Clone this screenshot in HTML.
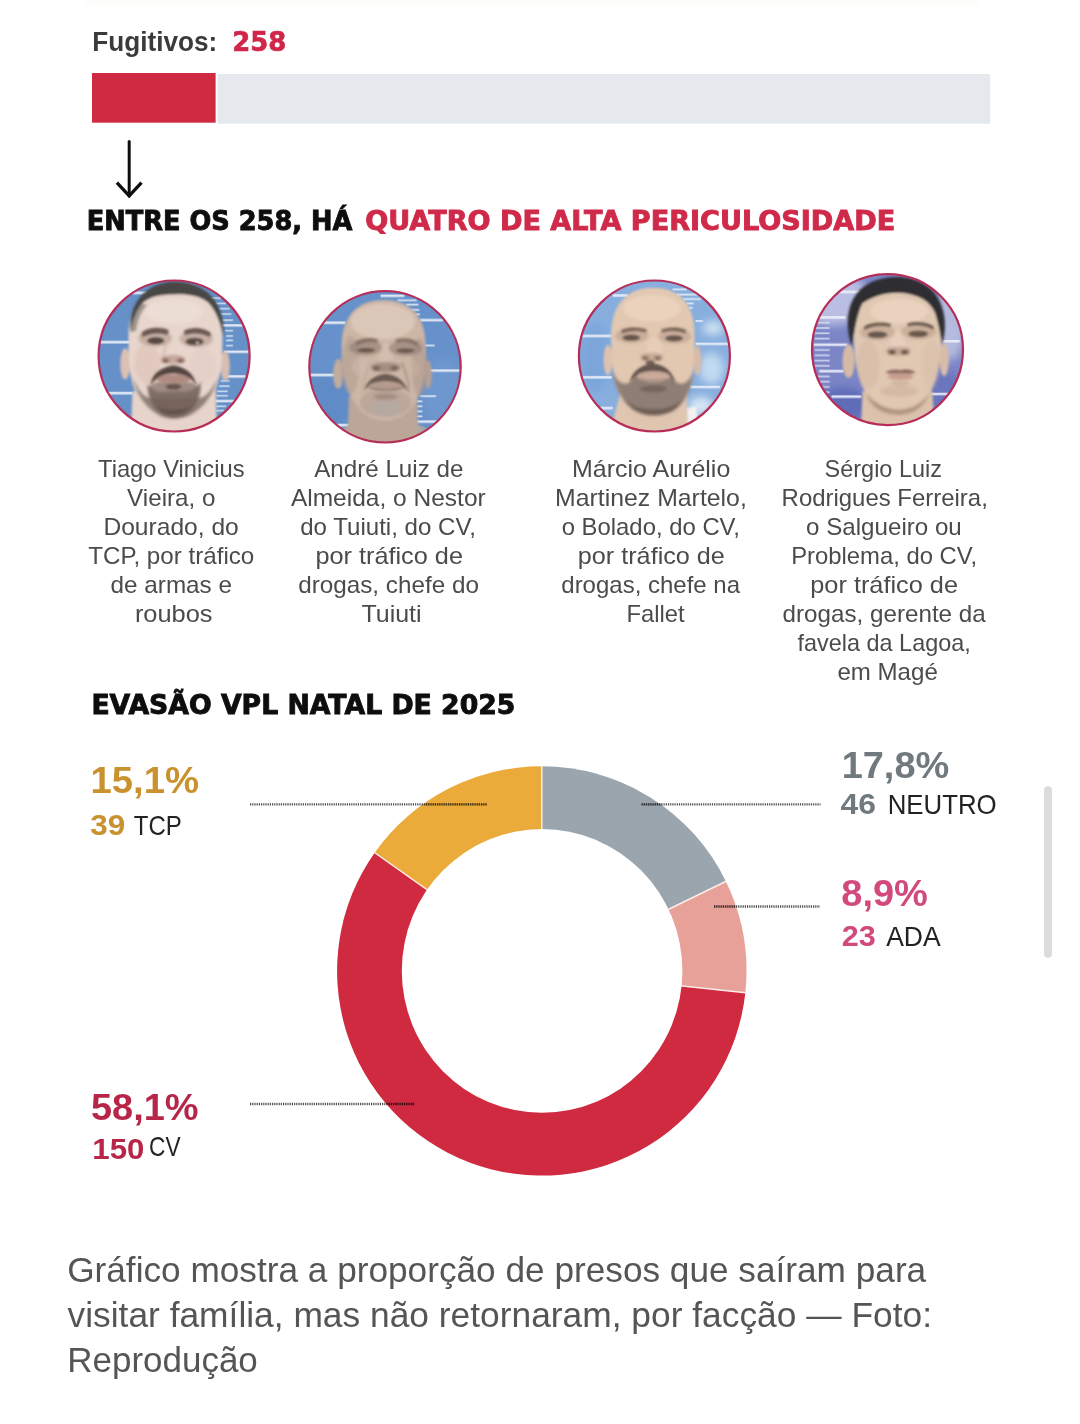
<!DOCTYPE html>
<html lang="pt-BR"><head><meta charset="utf-8"><title>Evasão VPL Natal de 2025</title>
<style>
html,body{margin:0;padding:0;background:#fff}
body{width:1080px;height:1424px;overflow:hidden;position:relative;font-family:"Liberation Sans",sans-serif}
svg{position:absolute;left:0;top:0;display:block}
</style></head><body>
<svg width="1080" height="1424" viewBox="0 0 1080 1424">
<defs><filter id="soft" x="0" y="0" width="100%" height="100%" filterUnits="userSpaceOnUse"><feGaussianBlur stdDeviation="0.45"/></filter></defs>
<g filter="url(#soft)">
<rect x="83" y="0" width="895" height="6" fill="#FDFDFB"/>
<rect x="217.6" y="74" width="772.6" height="49.7" fill="#E5E9ED"/>
<rect x="92" y="73" width="123.6" height="49.7" fill="#D02A42"/>
<text x="92.3" y="50.9" font-family='"Liberation Sans", sans-serif' font-size="27.2" font-weight="700" fill="#3b3b3d" text-anchor="start" textLength="125" lengthAdjust="spacingAndGlyphs">Fugitivos:</text>
<text x="232.2" y="50.9" font-family='"DejaVu Sans", "Liberation Sans", sans-serif' font-size="26.8" font-weight="700" fill="#D0284A" text-anchor="start" textLength="54" lengthAdjust="spacingAndGlyphs" stroke="#D0284A" stroke-width="0.7">258</text>
<path d="M129.2 141.6V196" fill="none" stroke="#111" stroke-width="3.0" stroke-linecap="round"/><path d="M116.9 182.6L129.2 195.9L141.5 182.6" fill="none" stroke="#111" stroke-width="3.3" stroke-linecap="butt" stroke-linejoin="miter"/>
<text x="86.8" y="229.6" font-family='"DejaVu Sans", "Liberation Sans", sans-serif' font-size="26.3" font-weight="700" fill="#0c0c0c" text-anchor="start" textLength="265.5" lengthAdjust="spacingAndGlyphs" stroke="#0c0c0c" stroke-width="0.9">ENTRE OS 258, HÁ</text>
<text x="365.2" y="229.6" font-family='"DejaVu Sans", "Liberation Sans", sans-serif' font-size="26.3" font-weight="700" fill="#D02B4B" text-anchor="start" textLength="530" lengthAdjust="spacingAndGlyphs" stroke="#D02B4B" stroke-width="0.9">QUATRO DE ALTA PERICULOSIDADE</text>
<defs><filter id="b3" x="-10%" y="-10%" width="120%" height="120%"><feGaussianBlur stdDeviation="3"/></filter><filter id="b8" x="-20%" y="-20%" width="140%" height="140%"><feGaussianBlur stdDeviation="25"/></filter><filter id="f6" x="-10%" y="-10%" width="120%" height="120%"><feGaussianBlur stdDeviation="11"/></filter><filter id="f8" x="-10%" y="-10%" width="120%" height="120%"><feGaussianBlur stdDeviation="8"/></filter><filter id="f10" x="-10%" y="-10%" width="120%" height="120%"><feGaussianBlur stdDeviation="16"/></filter></defs>
<clipPath id="cp0"><circle cx="174.1" cy="356.0" r="75.6"/></clipPath>
<g clip-path="url(#cp0)">
<g transform="translate(80 270) scale(0.17593)"><rect x="0" y="0" width="1080" height="1023" fill="#6590C8"/><g filter="url(#b3)"><rect x="100" y="402.5" width="185" height="15" fill="#EAF0F8" opacity="0.92"/><rect x="150" y="692.5" width="150" height="15" fill="#EAF0F8" opacity="0.92"/><rect x="300" y="122.5" width="100" height="15" fill="#EAF0F8" opacity="0.92"/><rect x="790" y="308.0" width="160" height="14" fill="#EAF0F8" opacity="0.92"/><rect x="820" y="458.0" width="150" height="14" fill="#EAF0F8" opacity="0.92"/><rect x="830" y="598.0" width="110" height="14" fill="#EAF0F8" opacity="0.92"/><rect x="770" y="738.0" width="110" height="14" fill="#EAF0F8" opacity="0.92"/><rect x="740" y="155.5" width="60" height="9" fill="#DDE8F4" opacity="0.92"/><rect x="770" y="185.5" width="60" height="9" fill="#DDE8F4" opacity="0.92"/><rect x="790" y="215.5" width="60" height="9" fill="#DDE8F4" opacity="0.92"/><rect x="800" y="245.5" width="60" height="9" fill="#DDE8F4" opacity="0.92"/><rect x="810" y="280.5" width="60" height="9" fill="#DDE8F4" opacity="0.92"/><rect x="825" y="340.5" width="45" height="9" fill="#DDE8F4" opacity="0.92"/><rect x="830" y="370.5" width="40" height="9" fill="#DDE8F4" opacity="0.92"/><rect x="830" y="395.5" width="40" height="9" fill="#DDE8F4" opacity="0.92"/><rect x="830" y="425.5" width="40" height="9" fill="#DDE8F4" opacity="0.92"/><rect x="800" y="625.5" width="50" height="9" fill="#DDE8F4" opacity="0.92"/><rect x="790" y="655.5" width="60" height="9" fill="#DDE8F4" opacity="0.92"/><rect x="780" y="685.5" width="60" height="9" fill="#DDE8F4" opacity="0.92"/><rect x="775" y="710.5" width="65" height="9" fill="#DDE8F4" opacity="0.92"/><rect x="775" y="770.5" width="55" height="9" fill="#DDE8F4" opacity="0.92"/><rect x="775" y="795.5" width="45" height="9" fill="#DDE8F4" opacity="0.92"/></g></g>
<g transform="translate(114 286) scale(0.11111)"><g filter="url(#f8)"><path d="M165 950 L150 1400 L930 1400 L915 900 Z" fill="#E6D3CA"/><ellipse cx="100" cy="700" rx="45" ry="140" fill="#DCC0B4"/><ellipse cx="1000" cy="720" rx="42" ry="135" fill="#D9BDB0"/><path d="M540 -10 C800 -10 985 150 975 480 C975 700 960 850 880 1000 C800 1130 680 1195 540 1195 C400 1195 290 1120 210 990 C140 850 130 700 130 480 C125 150 290 -10 540 -10 Z" fill="#E8D6CD"/><path d="M150 420 C120 150 300 -40 540 -40 C800 -40 1010 120 985 470 C960 330 920 230 850 150 C760 80 640 70 540 75 C420 75 320 90 250 160 C190 240 165 330 150 420 Z" fill="#4A4644"/><path d="M250 160 C190 240 165 330 150 420 L200 400 C210 300 250 220 300 170 Z" fill="#8C8480" opacity="0.8"/></g><g filter="url(#f10)"><ellipse cx="300" cy="700" rx="120" ry="180" fill="#DDBFB4" opacity="0.55"/><ellipse cx="800" cy="720" rx="120" ry="170" fill="#E2C9BF" opacity="0.4"/><ellipse cx="540" cy="230" rx="260" ry="110" fill="#EEE1DA" opacity="0.6"/><path d="M170 820 C190 960 280 1100 420 1170 C500 1200 600 1200 680 1165 C820 1090 900 960 935 820 C880 940 830 1000 760 1010 L330 1010 C260 1000 210 930 170 820 Z" fill="#8A7A71" opacity="0.95"/><path d="M300 880 C300 1050 410 1188 540 1192 C680 1188 790 1050 780 860 C720 960 640 950 540 950 C440 950 370 970 300 880 Z" fill="#72625A" opacity="0.9"/><path d="M380 1080 C440 1180 640 1180 710 1070 C650 1130 440 1130 380 1080 Z" fill="#5A4C46" opacity="0.85"/><ellipse cx="535" cy="905" rx="210" ry="55" fill="#7F6C63" opacity="0.7"/><ellipse cx="370" cy="470" rx="150" ry="75" fill="#B39A8D" opacity="0.65"/><ellipse cx="740" cy="475" rx="150" ry="75" fill="#B39A8D" opacity="0.65"/><ellipse cx="530" cy="660" rx="110" ry="40" fill="#C29F93" opacity="0.85"/><ellipse cx="462" cy="672" rx="32" ry="20" fill="#7A5A50"/><ellipse cx="600" cy="672" rx="32" ry="20" fill="#7A5A50"/><path d="M470 520 C460 580 440 620 430 660" fill="none" stroke="#C9AA9E" stroke-width="22" stroke-linecap="round" opacity="0.6"/></g><g filter="url(#f6)"><path d="M330 890 C340 790 420 730 535 715 C650 730 720 790 745 900 C700 830 640 790 535 785 C430 790 380 830 330 890 Z" fill="#54453F"/><ellipse cx="535" cy="838" rx="150" ry="44" fill="#B08A80"/><ellipse cx="535" cy="905" rx="70" ry="26" fill="#5E4F48" opacity="0.9"/><path d="M250 420 C300 370 420 365 490 395 L485 440 C410 415 320 420 255 460 Z" fill="#6A5850"/><path d="M630 400 C700 365 810 370 870 420 L865 460 C800 420 710 415 635 440 Z" fill="#6A5850"/><ellipse cx="375" cy="492" rx="75" ry="30" fill="#564840"/><ellipse cx="725" cy="500" rx="80" ry="32" fill="#564840"/><ellipse cx="750" cy="510" rx="12" ry="10" fill="#E8E0DA"/></g></g>
</g>
<circle cx="174.1" cy="356.0" r="75.5" fill="none" stroke="#B62E58" stroke-width="2.2"/>
<clipPath id="cp1"><circle cx="385.0" cy="366.8" r="75.8"/></clipPath>
<g clip-path="url(#cp1)">
<g transform="translate(290 280) scale(0.17593)"><rect x="0" y="0" width="1080" height="1023" fill="#6691CA"/><g filter="url(#b8)"><ellipse cx="870" cy="640" rx="130" ry="200" fill="#6E97CE"/><ellipse cx="200" cy="700" rx="130" ry="150" fill="#5F8BC6"/></g><g filter="url(#b3)"><rect x="190" y="235.5" width="125" height="15" fill="#EAF0F8" opacity="0.92"/><rect x="110" y="532.5" width="145" height="15" fill="#EAF0F8" opacity="0.92"/><rect x="260" y="817.5" width="75" height="15" fill="#EAF0F8" opacity="0.92"/><rect x="515" y="83.0" width="135" height="14" fill="#EAF0F8" opacity="0.92"/><rect x="740" y="221.0" width="130" height="14" fill="#EAF0F8" opacity="0.92"/><rect x="795" y="508.0" width="180" height="14" fill="#EAF0F8" opacity="0.92"/><rect x="720" y="798.0" width="125" height="14" fill="#EAF0F8" opacity="0.92"/><rect x="610" y="110.0" width="110" height="10" fill="#E3ECF6" opacity="0.92"/><rect x="660" y="135.0" width="70" height="10" fill="#E3ECF6" opacity="0.92"/><rect x="690" y="165.0" width="45" height="10" fill="#E3ECF6" opacity="0.92"/><rect x="712" y="190.0" width="26" height="10" fill="#E3ECF6" opacity="0.92"/><rect x="765" y="367.0" width="57" height="10" fill="#E3ECF6" opacity="0.92"/><rect x="740" y="655.0" width="90" height="10" fill="#E3ECF6" opacity="0.92"/><rect x="720" y="685.0" width="32" height="10" fill="#E3ECF6" opacity="0.92"/><rect x="720" y="713.0" width="32" height="10" fill="#E3ECF6" opacity="0.92"/><rect x="720" y="742.0" width="32" height="10" fill="#E3ECF6" opacity="0.92"/><rect x="720" y="770.0" width="32" height="10" fill="#E3ECF6" opacity="0.92"/></g></g>
<g transform="translate(325 296) scale(0.11111)"><g filter="url(#f8)"><path d="M100 1260 C150 1180 230 1150 300 1140 L760 1140 C850 1150 930 1190 990 1260 L990 1400 L100 1400 Z" fill="#B0A6A0"/><path d="M215 900 L200 1400 L840 1400 L830 900 Z" fill="#BCA698"/><ellipse cx="118" cy="700" rx="45" ry="135" fill="#C2AC9E"/><ellipse cx="925" cy="705" rx="35" ry="130" fill="#B8A294"/><path d="M520 35 C790 35 915 200 905 480 C905 700 880 850 800 980 C720 1090 640 1120 540 1120 C440 1120 350 1090 280 980 C190 850 150 700 150 480 C140 200 280 35 520 35 Z" fill="#CDB6A6"/></g><g filter="url(#f10)"><ellipse cx="520" cy="230" rx="290" ry="160" fill="#DDCABB" opacity="0.85"/><ellipse cx="230" cy="620" rx="80" ry="260" fill="#B09A8C" opacity="0.55"/><ellipse cx="850" cy="640" rx="70" ry="260" fill="#AC9688" opacity="0.55"/><ellipse cx="545" cy="540" rx="65" ry="120" fill="#D6C1B2" opacity="0.7"/><ellipse cx="330" cy="640" rx="90" ry="80" fill="#D2BCAD" opacity="0.5"/><ellipse cx="770" cy="650" rx="80" ry="80" fill="#CCB6A6" opacity="0.4"/><ellipse cx="365" cy="465" rx="150" ry="70" fill="#948073" opacity="0.65"/><ellipse cx="725" cy="470" rx="150" ry="70" fill="#948073" opacity="0.65"/><ellipse cx="545" cy="640" rx="135" ry="45" fill="#9C8678" opacity="0.85"/><ellipse cx="462" cy="652" rx="34" ry="20" fill="#6E5B51"/><ellipse cx="625" cy="652" rx="34" ry="20" fill="#6E5B51"/><ellipse cx="545" cy="960" rx="230" ry="130" fill="#B09D91" opacity="0.6"/><ellipse cx="545" cy="1010" rx="150" ry="75" fill="#B3AAA2" opacity="0.75"/><ellipse cx="545" cy="905" rx="110" ry="28" fill="#8F7C71" opacity="0.6"/></g><g filter="url(#f6)"><path d="M275 415 C330 375 420 372 475 392 L472 425 C410 405 340 412 282 448 Z" fill="#7E6B60" opacity="0.85"/><path d="M635 392 C700 372 785 380 835 420 L828 450 C770 412 700 405 640 424 Z" fill="#7E6B60" opacity="0.85"/><ellipse cx="368" cy="488" rx="82" ry="20" fill="#6A594F"/><ellipse cx="722" cy="492" rx="80" ry="20" fill="#6A594F"/><path d="M355 850 C375 760 450 712 545 700 C640 712 720 760 745 860 C700 795 640 772 545 768 C450 772 400 795 355 850 Z" fill="#6C5C53"/><ellipse cx="545" cy="808" rx="150" ry="36" fill="#B49B8E"/><path d="M400 828 C500 850 600 850 700 828" fill="none" stroke="#7C6A60" stroke-width="12" stroke-linecap="round" opacity="0.8"/><path d="M690 600 C730 680 750 770 755 860" fill="none" stroke="#86736A" stroke-width="13" stroke-linecap="round" opacity="0.6"/><path d="M400 600 C370 680 350 760 345 850" fill="none" stroke="#96827A" stroke-width="10" stroke-linecap="round" opacity="0.35"/></g></g>
</g>
<circle cx="385.0" cy="366.8" r="75.7" fill="none" stroke="#B62E58" stroke-width="2.2"/>
<clipPath id="cp2"><circle cx="654.4" cy="356.0" r="75.6"/></clipPath>
<g clip-path="url(#cp2)">
<g transform="translate(560 270) scale(0.17593)"><rect x="0" y="0" width="1080" height="1023" fill="#88AEDE"/><g filter="url(#b8)"><ellipse cx="870" cy="330" rx="60" ry="40" fill="#CFE2F3"/><ellipse cx="860" cy="560" rx="70" ry="90" fill="#C2DAF0"/><ellipse cx="800" cy="770" rx="70" ry="50" fill="#D8E8F5"/><ellipse cx="200" cy="500" rx="90" ry="200" fill="#7CA6DA"/></g><g filter="url(#b3)"><rect x="300" y="137.5" width="85" height="15" fill="#EAF0F8" opacity="0.9"/><rect x="120" y="367.5" width="175" height="15" fill="#EAF0F8" opacity="0.9"/><rect x="125" y="602.5" width="170" height="15" fill="#EAF0F8" opacity="0.9"/><rect x="200" y="777.5" width="100" height="15" fill="#EAF0F8" opacity="0.9"/><rect x="770" y="413.0" width="190" height="14" fill="#EAF0F8" opacity="0.9"/><rect x="740" y="658.0" width="170" height="14" fill="#EAF0F8" opacity="0.9"/><rect x="640" y="105.0" width="80" height="10" fill="#E6EFF8" opacity="0.92"/><rect x="660" y="135.0" width="120" height="10" fill="#E6EFF8" opacity="0.92"/><rect x="700" y="160.0" width="100" height="10" fill="#E6EFF8" opacity="0.92"/><rect x="720" y="185.0" width="40" height="10" fill="#E6EFF8" opacity="0.92"/><rect x="730" y="210.0" width="25" height="10" fill="#E6EFF8" opacity="0.92"/><rect x="770" y="285.0" width="42" height="10" fill="#E6EFF8" opacity="0.92"/></g></g>
<g transform="translate(594 286) scale(0.11111)"><g filter="url(#f8)"><path d="M830 1100 L920 1080 L960 1400 L830 1400 Z" fill="#F2F2F2"/><path d="M240 950 L120 1400 L850 1400 L835 950 Z" fill="#E0C6B0"/><ellipse cx="125" cy="665" rx="40" ry="135" fill="#DEC2AE"/><ellipse cx="930" cy="670" rx="36" ry="130" fill="#D8BBA6"/><path d="M530 15 C800 15 915 200 905 470 C905 700 890 850 820 990 C740 1110 640 1165 540 1165 C440 1165 330 1110 250 990 C170 850 155 700 155 470 C145 200 270 15 530 15 Z" fill="#E2C8B1"/></g><g filter="url(#f10)"><ellipse cx="520" cy="200" rx="260" ry="120" fill="#ECD5C1" opacity="0.8"/><ellipse cx="540" cy="560" rx="70" ry="100" fill="#EAD2BE" opacity="0.6"/><path d="M165 760 C180 900 250 1040 360 1120 C450 1175 630 1175 720 1120 C830 1040 880 900 895 770 C850 880 790 900 730 860 C680 770 620 715 530 705 C440 715 380 770 330 860 C270 900 210 880 165 760 Z" fill="#85766D" opacity="0.9"/><path d="M260 1010 C340 1130 450 1165 540 1165 C630 1165 750 1130 820 1000 C740 1090 640 1110 540 1110 C440 1110 340 1090 260 1010 Z" fill="#685A52" opacity="0.9"/><ellipse cx="340" cy="450" rx="150" ry="65" fill="#BC9F8C" opacity="0.6"/><ellipse cx="725" cy="455" rx="150" ry="65" fill="#BC9F8C" opacity="0.6"/><ellipse cx="520" cy="640" rx="105" ry="38" fill="#C4A591" opacity="0.85"/><ellipse cx="462" cy="648" rx="30" ry="18" fill="#7A6254"/><ellipse cx="575" cy="648" rx="30" ry="18" fill="#7A6254"/></g><g filter="url(#f6)"><path d="M325 870 C335 770 420 715 525 700 C640 715 710 770 730 880 C690 800 630 770 525 765 C430 770 370 800 325 870 Z" fill="#66574F"/><ellipse cx="505" cy="690" rx="40" ry="22" fill="#66574F" opacity="0.9"/><ellipse cx="535" cy="815" rx="150" ry="50" fill="#C9AA9B"/><path d="M400 835 C480 850 590 850 670 835" fill="none" stroke="#9A7D72" stroke-width="12" stroke-linecap="round" opacity="0.8"/><ellipse cx="535" cy="925" rx="120" ry="30" fill="#6E5F57" opacity="0.8"/><path d="M245 400 C300 365 400 368 475 392 L470 418 C400 398 310 398 250 428 Z" fill="#786456"/><path d="M605 392 C680 368 770 365 830 400 L825 428 C770 398 680 398 610 418 Z" fill="#786456"/><ellipse cx="335" cy="465" rx="80" ry="26" fill="#64524A"/><ellipse cx="720" cy="470" rx="80" ry="26" fill="#64524A"/></g></g>
</g>
<circle cx="654.4" cy="356.0" r="75.5" fill="none" stroke="#B62E58" stroke-width="2.2"/>
<clipPath id="cp3"><circle cx="887.5" cy="349.6" r="75.6"/></clipPath>
<g clip-path="url(#cp3)">
<g transform="translate(790 255) scale(0.17593)"><rect x="0" y="0" width="1080" height="1100" fill="#7C86C6"/><g filter="url(#b8)"><ellipse cx="250" cy="250" rx="200" ry="150" fill="#B9BEE2"/><ellipse cx="900" cy="400" rx="100" ry="200" fill="#B5BADF"/><ellipse cx="300" cy="850" rx="150" ry="100" fill="#5F6DB8"/><ellipse cx="880" cy="780" rx="100" ry="120" fill="#6A76BD"/></g><g filter="url(#b3)"><rect x="280" y="202.5" width="115" height="15" fill="#EEF0FA" opacity="0.9"/><rect x="165" y="347.5" width="150" height="15" fill="#EEF0FA" opacity="0.9"/><rect x="135" y="502.5" width="190" height="15" fill="#EEF0FA" opacity="0.9"/><rect x="165" y="652.5" width="140" height="15" fill="#EEF0FA" opacity="0.9"/><rect x="235" y="797.5" width="170" height="15" fill="#EEF0FA" opacity="0.9"/><rect x="865" y="483.0" width="100" height="14" fill="#EEF0FA" opacity="0.9"/><rect x="805" y="783.0" width="100" height="14" fill="#EEF0FA" opacity="0.9"/><rect x="140" y="380.0" width="85" height="10" fill="#DFE2F3" opacity="0.8"/><rect x="140" y="410.0" width="85" height="10" fill="#DFE2F3" opacity="0.8"/><rect x="140" y="440.0" width="85" height="10" fill="#DFE2F3" opacity="0.8"/><rect x="140" y="470.0" width="85" height="10" fill="#DFE2F3" opacity="0.8"/><rect x="140" y="535.0" width="85" height="10" fill="#DFE2F3" opacity="0.8"/><rect x="140" y="565.0" width="85" height="10" fill="#DFE2F3" opacity="0.8"/><rect x="140" y="595.0" width="85" height="10" fill="#DFE2F3" opacity="0.8"/><rect x="140" y="625.0" width="85" height="10" fill="#DFE2F3" opacity="0.8"/><rect x="140" y="685.0" width="85" height="10" fill="#DFE2F3" opacity="0.8"/><rect x="140" y="715.0" width="85" height="10" fill="#DFE2F3" opacity="0.8"/><rect x="140" y="745.0" width="85" height="10" fill="#DFE2F3" opacity="0.8"/><rect x="140" y="775.0" width="85" height="10" fill="#DFE2F3" opacity="0.8"/></g></g>
<g transform="translate(828 280) scale(0.11111)"><g filter="url(#f8)"><path d="M310 1000 L290 1500 L960 1500 L940 1000 Z" fill="#DCC2AC"/><ellipse cx="185" cy="730" rx="55" ry="150" fill="#D6BAA6"/><ellipse cx="1045" cy="715" rx="42" ry="150" fill="#D8BDA9"/><path d="M620 60 C880 60 1020 220 1015 500 C1015 700 1000 860 920 1010 C850 1110 730 1160 630 1160 C530 1160 410 1110 335 1010 C260 870 235 700 232 500 C225 220 380 60 620 60 Z" fill="#E0C8B2"/><path d="M215 600 C120 300 200 -20 620 -30 C1000 -20 1110 300 1025 590 C1010 470 990 380 965 300 C920 190 820 130 650 115 C500 110 400 150 310 210 C260 300 240 450 215 600 Z" fill="#2E2D31"/></g><g filter="url(#f10)"><ellipse cx="640" cy="280" rx="260" ry="110" fill="#EBD6C3" opacity="0.8"/><ellipse cx="360" cy="760" rx="100" ry="220" fill="#CDB09B" opacity="0.35"/><ellipse cx="930" cy="760" rx="80" ry="220" fill="#D2B6A1" opacity="0.3"/><ellipse cx="630" cy="560" rx="70" ry="100" fill="#EAD4C1" opacity="0.6"/><ellipse cx="445" cy="470" rx="160" ry="70" fill="#BCA08C" opacity="0.6"/><ellipse cx="815" cy="465" rx="160" ry="70" fill="#BCA08C" opacity="0.6"/><ellipse cx="632" cy="640" rx="115" ry="40" fill="#C2A490" opacity="0.85"/><ellipse cx="577" cy="648" rx="34" ry="20" fill="#523F37"/><ellipse cx="690" cy="648" rx="34" ry="20" fill="#523F37"/><ellipse cx="640" cy="1000" rx="170" ry="50" fill="#CDB09C" opacity="0.6"/><path d="M340 1020 C430 1130 540 1170 630 1170 C730 1170 840 1130 920 1010 C850 1170 740 1210 630 1210 C520 1210 400 1170 340 1020 Z" fill="#A58A76" opacity="0.85"/></g><g filter="url(#f6)"><path d="M325 420 C390 380 490 378 565 398 L560 422 C490 405 395 408 330 448 Z" fill="#66554A"/><path d="M715 392 C790 372 890 378 950 418 L945 445 C880 405 790 400 718 416 Z" fill="#66554A"/><ellipse cx="445" cy="492" rx="88" ry="28" fill="#66564C"/><ellipse cx="812" cy="484" rx="88" ry="28" fill="#66564C"/><path d="M515 835 C570 795 620 810 650 812 C690 805 740 795 790 835 C740 850 570 850 515 835 Z" fill="#8A665B"/><ellipse cx="652" cy="868" rx="115" ry="32" fill="#C79F91"/><ellipse cx="650" cy="930" rx="90" ry="18" fill="#C9AD9A" opacity="0.7"/></g></g>
</g>
<circle cx="887.5" cy="349.6" r="75.5" fill="none" stroke="#B62E58" stroke-width="2.2"/>
<text x="98.0" y="476.7" font-family='"Liberation Sans", sans-serif' font-size="23.2" font-weight="400" fill="#4b4b4d" text-anchor="start" textLength="146.6" lengthAdjust="spacingAndGlyphs">Tiago Vinicius</text>
<text x="127.1" y="505.7" font-family='"Liberation Sans", sans-serif' font-size="23.2" font-weight="400" fill="#4b4b4d" text-anchor="start" textLength="88.4" lengthAdjust="spacingAndGlyphs">Vieira, o</text>
<text x="103.4" y="534.7" font-family='"Liberation Sans", sans-serif' font-size="23.2" font-weight="400" fill="#4b4b4d" text-anchor="start" textLength="135.4" lengthAdjust="spacingAndGlyphs">Dourado, do</text>
<text x="88.2" y="563.7" font-family='"Liberation Sans", sans-serif' font-size="23.2" font-weight="400" fill="#4b4b4d" text-anchor="start" textLength="166.1" lengthAdjust="spacingAndGlyphs">TCP, por tráfico</text>
<text x="110.6" y="592.7" font-family='"Liberation Sans", sans-serif' font-size="23.2" font-weight="400" fill="#4b4b4d" text-anchor="start" textLength="121.4" lengthAdjust="spacingAndGlyphs">de armas e</text>
<text x="134.9" y="621.7" font-family='"Liberation Sans", sans-serif' font-size="23.2" font-weight="400" fill="#4b4b4d" text-anchor="start" textLength="77.6" lengthAdjust="spacingAndGlyphs">roubos</text>
<text x="314.2" y="476.7" font-family='"Liberation Sans", sans-serif' font-size="23.2" font-weight="400" fill="#4b4b4d" text-anchor="start" textLength="149.2" lengthAdjust="spacingAndGlyphs">André Luiz de</text>
<text x="290.9" y="505.7" font-family='"Liberation Sans", sans-serif' font-size="23.2" font-weight="400" fill="#4b4b4d" text-anchor="start" textLength="194.8" lengthAdjust="spacingAndGlyphs">Almeida, o Nestor</text>
<text x="300.2" y="534.7" font-family='"Liberation Sans", sans-serif' font-size="23.2" font-weight="400" fill="#4b4b4d" text-anchor="start" textLength="175.8" lengthAdjust="spacingAndGlyphs">do Tuiuti, do CV,</text>
<text x="315.4" y="563.7" font-family='"Liberation Sans", sans-serif' font-size="23.2" font-weight="400" fill="#4b4b4d" text-anchor="start" textLength="147.6" lengthAdjust="spacingAndGlyphs">por tráfico de</text>
<text x="298.2" y="592.7" font-family='"Liberation Sans", sans-serif' font-size="23.2" font-weight="400" fill="#4b4b4d" text-anchor="start" textLength="180.7" lengthAdjust="spacingAndGlyphs">drogas, chefe do</text>
<text x="361.4" y="621.7" font-family='"Liberation Sans", sans-serif' font-size="23.2" font-weight="400" fill="#4b4b4d" text-anchor="start" textLength="60.2" lengthAdjust="spacingAndGlyphs">Tuiuti</text>
<text x="572.0" y="476.7" font-family='"Liberation Sans", sans-serif' font-size="23.2" font-weight="400" fill="#4b4b4d" text-anchor="start" textLength="158.3" lengthAdjust="spacingAndGlyphs">Márcio Aurélio</text>
<text x="555.1" y="505.7" font-family='"Liberation Sans", sans-serif' font-size="23.2" font-weight="400" fill="#4b4b4d" text-anchor="start" textLength="191.7" lengthAdjust="spacingAndGlyphs">Martinez Martelo,</text>
<text x="561.7" y="534.7" font-family='"Liberation Sans", sans-serif' font-size="23.2" font-weight="400" fill="#4b4b4d" text-anchor="start" textLength="178.3" lengthAdjust="spacingAndGlyphs">o Bolado, do CV,</text>
<text x="577.8" y="563.7" font-family='"Liberation Sans", sans-serif' font-size="23.2" font-weight="400" fill="#4b4b4d" text-anchor="start" textLength="147.1" lengthAdjust="spacingAndGlyphs">por tráfico de</text>
<text x="561.3" y="592.7" font-family='"Liberation Sans", sans-serif' font-size="23.2" font-weight="400" fill="#4b4b4d" text-anchor="start" textLength="178.7" lengthAdjust="spacingAndGlyphs">drogas, chefe na</text>
<text x="626.4" y="621.7" font-family='"Liberation Sans", sans-serif' font-size="23.2" font-weight="400" fill="#4b4b4d" text-anchor="start" textLength="58.2" lengthAdjust="spacingAndGlyphs">Fallet</text>
<text x="824.6" y="476.7" font-family='"Liberation Sans", sans-serif' font-size="23.2" font-weight="400" fill="#4b4b4d" text-anchor="start" textLength="117.4" lengthAdjust="spacingAndGlyphs">Sérgio Luiz</text>
<text x="781.6" y="505.7" font-family='"Liberation Sans", sans-serif' font-size="23.2" font-weight="400" fill="#4b4b4d" text-anchor="start" textLength="206.2" lengthAdjust="spacingAndGlyphs">Rodrigues Ferreira,</text>
<text x="806.1" y="534.7" font-family='"Liberation Sans", sans-serif' font-size="23.2" font-weight="400" fill="#4b4b4d" text-anchor="start" textLength="155.7" lengthAdjust="spacingAndGlyphs">o Salgueiro ou</text>
<text x="791.2" y="563.7" font-family='"Liberation Sans", sans-serif' font-size="23.2" font-weight="400" fill="#4b4b4d" text-anchor="start" textLength="186.0" lengthAdjust="spacingAndGlyphs">Problema, do CV,</text>
<text x="810.3" y="592.7" font-family='"Liberation Sans", sans-serif' font-size="23.2" font-weight="400" fill="#4b4b4d" text-anchor="start" textLength="147.7" lengthAdjust="spacingAndGlyphs">por tráfico de</text>
<text x="782.6" y="621.7" font-family='"Liberation Sans", sans-serif' font-size="23.2" font-weight="400" fill="#4b4b4d" text-anchor="start" textLength="203.1" lengthAdjust="spacingAndGlyphs">drogas, gerente da</text>
<text x="797.5" y="650.7" font-family='"Liberation Sans", sans-serif' font-size="23.2" font-weight="400" fill="#4b4b4d" text-anchor="start" textLength="173.3" lengthAdjust="spacingAndGlyphs">favela da Lagoa,</text>
<text x="837.4" y="679.7" font-family='"Liberation Sans", sans-serif' font-size="23.2" font-weight="400" fill="#4b4b4d" text-anchor="start" textLength="100.4" lengthAdjust="spacingAndGlyphs">em Magé</text>
<text x="91.4" y="714.3" font-family='"DejaVu Sans", "Liberation Sans", sans-serif' font-size="26.8" font-weight="700" fill="#0c0c0c" text-anchor="start" textLength="424" lengthAdjust="spacingAndGlyphs" stroke="#0c0c0c" stroke-width="0.9">EVASÃO VPL NATAL DE 2025</text>
<path d="M541.8 970.9L541.80 766.20A204.7 204.7 0 0 1 725.91 881.42Z" fill="#9AA5AE"/>
<path d="M541.8 970.9L725.91 881.42A204.7 204.7 0 0 1 745.33 992.72Z" fill="#E8A198"/>
<path d="M541.8 970.9L745.33 992.72A204.7 204.7 0 1 1 374.70 852.67Z" fill="#D02C41"/>
<path d="M541.8 970.9L374.70 852.67A204.7 204.7 0 0 1 541.80 766.20Z" fill="#EAAB3B"/>
<line x1="541.8" y1="970.9" x2="541.80" y2="765.90" stroke="#FCEDEA" stroke-width="1.5"/>
<line x1="541.8" y1="970.9" x2="726.18" y2="881.29" stroke="#FCEDEA" stroke-width="1.5"/>
<line x1="541.8" y1="970.9" x2="745.63" y2="992.76" stroke="#FCEDEA" stroke-width="1.5"/>
<line x1="541.8" y1="970.9" x2="374.45" y2="852.50" stroke="#FCEDEA" stroke-width="1.5"/>
<ellipse cx="542.1" cy="970.9" rx="140.3" ry="141.9" fill="#fff"/>
<line x1="250" y1="804.4" x2="487" y2="804.4" stroke="#505050" stroke-width="2.4" stroke-dasharray="1.2 1" style="mix-blend-mode:multiply"/>
<line x1="425" y1="804.4" x2="487" y2="804.4" stroke="#404040" stroke-opacity="0.22" stroke-width="2.4" style="mix-blend-mode:multiply"/>
<line x1="641.5" y1="804.4" x2="820.5" y2="804.4" stroke="#505050" stroke-width="2.4" stroke-dasharray="1.2 1" style="mix-blend-mode:multiply"/>
<line x1="641.5" y1="804.4" x2="662" y2="804.4" stroke="#404040" stroke-opacity="0.22" stroke-width="2.4" style="mix-blend-mode:multiply"/>
<line x1="714" y1="906.5" x2="820" y2="906.5" stroke="#505050" stroke-width="2.4" stroke-dasharray="1.2 1" style="mix-blend-mode:multiply"/>
<line x1="714" y1="906.5" x2="735" y2="906.5" stroke="#404040" stroke-opacity="0.22" stroke-width="2.4" style="mix-blend-mode:multiply"/>
<line x1="250" y1="1104" x2="415" y2="1104" stroke="#505050" stroke-width="2.4" stroke-dasharray="1.2 1" style="mix-blend-mode:multiply"/>
<line x1="386" y1="1104" x2="415" y2="1104" stroke="#404040" stroke-opacity="0.22" stroke-width="2.4" style="mix-blend-mode:multiply"/>
<text x="90.5" y="792.8" font-family='"Liberation Sans", sans-serif' font-size="36.2" font-weight="700" fill="#C9922F" text-anchor="start" textLength="108.5" lengthAdjust="spacingAndGlyphs">15,1%</text>
<text x="90.3" y="835.2" font-family='"Liberation Sans", sans-serif' font-size="30" font-weight="700" fill="#C9922F" text-anchor="start" textLength="35" lengthAdjust="spacingAndGlyphs">39</text>
<text x="133.8" y="834.8" font-family='"Liberation Sans", sans-serif' font-size="27.5" font-weight="400" fill="#222" text-anchor="start" textLength="48" lengthAdjust="spacingAndGlyphs">TCP</text>
<text x="91" y="1120.2" font-family='"Liberation Sans", sans-serif' font-size="36.2" font-weight="700" fill="#B7274A" text-anchor="start" textLength="107.5" lengthAdjust="spacingAndGlyphs">58,1%</text>
<text x="92.3" y="1158.8" font-family='"Liberation Sans", sans-serif' font-size="30" font-weight="700" fill="#B7274A" text-anchor="start" textLength="52" lengthAdjust="spacingAndGlyphs">150</text>
<text x="149" y="1156.2" font-family='"Liberation Sans", sans-serif' font-size="27.5" font-weight="400" fill="#222" text-anchor="start" textLength="31.5" lengthAdjust="spacingAndGlyphs">CV</text>
<text x="841.7" y="778" font-family='"Liberation Sans", sans-serif' font-size="36.2" font-weight="700" fill="#6F797D" text-anchor="start" textLength="107.5" lengthAdjust="spacingAndGlyphs">17,8%</text>
<text x="840.5" y="814.2" font-family='"Liberation Sans", sans-serif' font-size="29.5" font-weight="700" fill="#6F797D" text-anchor="start" textLength="35.5" lengthAdjust="spacingAndGlyphs">46</text>
<text x="887.7" y="814.2" font-family='"Liberation Sans", sans-serif' font-size="27.5" font-weight="400" fill="#222" text-anchor="start" textLength="109" lengthAdjust="spacingAndGlyphs">NEUTRO</text>
<text x="841.3" y="905.8" font-family='"Liberation Sans", sans-serif' font-size="36.2" font-weight="700" fill="#D24A7B" text-anchor="start" textLength="86.5" lengthAdjust="spacingAndGlyphs">8,9%</text>
<text x="841.8" y="946.2" font-family='"Liberation Sans", sans-serif' font-size="30" font-weight="700" fill="#D24A7B" text-anchor="start" textLength="34" lengthAdjust="spacingAndGlyphs">23</text>
<text x="886.2" y="946.4" font-family='"Liberation Sans", sans-serif' font-size="27.5" font-weight="400" fill="#222" text-anchor="start" textLength="54.5" lengthAdjust="spacingAndGlyphs">ADA</text>
</g>
<rect x="1044" y="786.3" width="8" height="171.4" rx="4" fill="#DCDCDF"/>
<text x="67.2" y="1282.3" font-family='"Liberation Sans", sans-serif' font-size="35" font-weight="400" fill="#555557" text-anchor="start" textLength="859" lengthAdjust="spacingAndGlyphs">Gráfico mostra a proporção de presos que saíram para</text>
<text x="67.5" y="1327.2" font-family='"Liberation Sans", sans-serif' font-size="35" font-weight="400" fill="#555557" text-anchor="start" textLength="864.5" lengthAdjust="spacingAndGlyphs">visitar família, mas não retornaram, por facção — Foto:</text>
<text x="67.3" y="1372.2" font-family='"Liberation Sans", sans-serif' font-size="35" font-weight="400" fill="#555557" text-anchor="start" textLength="190.5" lengthAdjust="spacingAndGlyphs">Reprodução</text>
</svg>
</body></html>
